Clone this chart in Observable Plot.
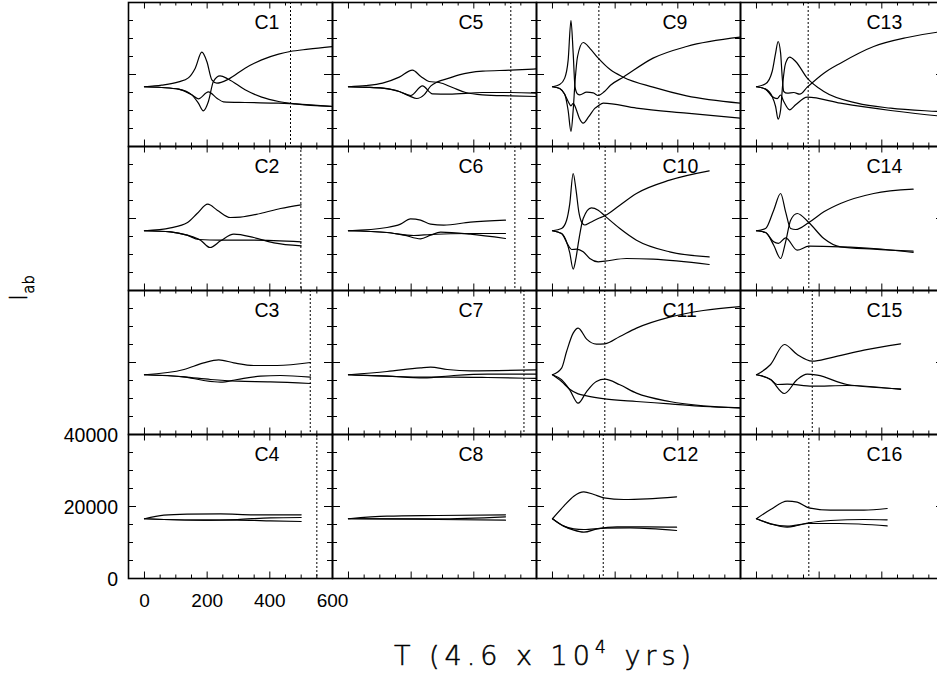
<!DOCTYPE html>
<html><head><meta charset="utf-8">
<script src="https://cdn.jsdelivr.net/npm/d3@7"></script>
<script src="https://cdn.jsdelivr.net/npm/@observablehq/plot@0.6"></script>
<style>
html,body{margin:0;padding:0;overflow:hidden;background:#fff}
svg{max-width:none !important}
</style>
</head><body><div id="chart"></div>
<script>
// ---------- data ----------
const panelNames = ["C1","C2","C3","C4","C5","C6","C7","C8","C9","C10","C11","C12","C13","C14","C15","C16"];
// time of the dotted marker in each panel (null = none visible)
const dottedT = [466,499,529,550, 518,531,560,null, 148,168,167,162, 165,167,178,167];
const xMajorTicks = [0,200,400,600];
const xMinorTicks = [50,100,150,250,300,350,450,500,550];
const yMajorTicks = [0,20000,40000];
const yMinorTicks = [5000,10000,15000,25000,30000,35000];
const xTickLabels = ["0","200","400","600"];
const yTickLabels = ["0","20000","40000"];

// each panel: three series of [T, I_ab]
const C1 = [
 [[0,16600],[55,17040],[109,17960],[140,19070],[162,21760],[183,26200],[199,23610],[215,18520],[231,17600],[268,18700],[321,21760],[374,24070],[428,25650],[465,26390],[523,27040],[600,27780]],
 [[0,16600],[55,16390],[109,15930],[151,14350],[172,12040],[188,9910],[204,12500],[220,18060],[241,19630],[268,18700],[321,15740],[374,13700],[428,12500],[481,11850],[600,11110]],
 [[0,16600],[55,16390],[109,15930],[151,14350],[172,13240],[204,15180],[231,13430],[252,12410],[321,12220],[428,12040],[481,11850],[600,11110]]
];
const C2 = [
 [[0,16600],[83,17410],[136,18800],[168,21390],[202,23980],[232,22320],[274,20280],[306,20370],[370,21390],[434,22780],[500,23800]],
 [[0,16600],[83,16300],[136,15370],[179,13980],[209,11940],[243,13800],[285,15650],[349,14720],[413,13240],[500,12410]],
 [[0,16600],[83,16300],[136,15370],[173,14170],[243,13980],[349,13980],[500,13520]]
];
const C3 = [
 [[0,16600],[126,18060],[189,19910],[237,20740],[285,19910],[349,19170],[423,19170],[530,20000]],
 [[0,16600],[126,16020],[189,15000],[243,14540],[296,15280],[370,16200],[434,16390],[530,15930]],
 [[0,16600],[126,16020],[211,15280],[296,14810],[402,14630],[530,14170]]
];
const C4 = [
 [[0,16600],[62,17590],[136,17870],[243,17960],[349,17690],[500,17690]],
 [[0,16600],[62,16390],[189,16200],[296,16390],[402,16850],[500,16940]],
 [[0,16600],[62,16390],[189,16200],[296,16200],[402,16020],[500,15830]]
];
const C5 = [
 [[0,16600],[55,16900],[109,17590],[162,19260],[204,21200],[231,19440],[257,18060],[289,17780],[332,16390],[374,15000],[428,14350],[518,14070],[600,13890]],
 [[0,16600],[55,16450],[109,16200],[162,15280],[194,14070],[218,13330],[241,14350],[263,16850],[284,17960],[321,18980],[353,19910],[428,20930],[518,21200],[600,21570]],
 [[0,16600],[55,16450],[109,16200],[162,15280],[199,14170],[236,16850],[268,14630],[321,14540],[428,15000],[518,15000],[600,14810]]
];
const C6 = [
 [[0,16600],[123,17500],[166,18430],[198,19910],[230,19540],[262,18430],[304,18150],[389,18980],[501,19540]],
 [[0,16600],[123,16110],[177,15370],[230,14350],[262,15370],[294,16200],[389,15650],[501,14440]],
 [[0,16600],[123,16110],[209,15280],[262,15560],[389,15830],[501,15830]]
];
const C7 = [
 [[0,16600],[123,17500],[230,18520],[262,18700],[315,18060],[389,17690],[600,17960]],
 [[0,16600],[123,16200],[240,15740],[336,16390],[443,16760],[600,16760]],
 [[0,16600],[123,16200],[240,15930],[336,15930],[443,15830],[600,15560]]
];
const C8 = [
 [[0,16600],[123,17310],[283,17500],[501,17690]],
 [[0,16600],[123,16570],[283,16570],[501,17130]],
 [[0,16600],[123,16570],[283,16390],[501,16200]]
];
const C9 = [
 [[0,16600],[23,17200],[39,19000],[50,24000],[59,35000],[66,26000],[72,16500],[80,14600],[87,14350],[109,15090],[130,14900],[146,14170],[165,15200],[185,17000],[226,19260],[321,24540],[428,27780],[600,30370]],
 [[0,16600],[23,16100],[39,14500],[50,10000],[59,4170],[66,10000],[72,18000],[80,25000],[98,28890],[120,27200],[146,24540],[185,21300],[226,19260],[321,16480],[428,14070],[600,12040]],
 [[0,16600],[23,16100],[39,14500],[50,12500],[59,11300],[66,12000],[75,10500],[85,8000],[98,6480],[115,8200],[135,10600],[146,11300],[162,12040],[268,10650],[428,9260],[600,7870]]
];
const C10 = [
 [[0,16600],[29,17220],[45,19500],[55,24000],[66,32500],[75,28000],[84,21850],[93,19000],[103,18200],[120,18900],[146,20000],[167,20740],[215,23700],[268,26950],[374,30650],[500,33240]],
 [[0,16600],[29,15830],[45,13500],[55,10500],[66,5930],[75,9000],[84,14000],[98,20000],[124,22960],[146,22320],[167,20740],[215,17220],[268,13980],[374,10740],[500,9350]],
 [[0,16600],[29,15830],[50,12590],[61,11390],[77,11480],[98,10740],[119,8890],[146,7960],[167,8150],[236,8890],[321,8700],[500,7220]]
];
const C11 = [
 [[0,16600],[29,18430],[45,23060],[66,28150],[82,29540],[109,26480],[140,25090],[167,25190],[215,27220],[268,29540],[374,32590],[481,34450],[600,35560]],
 [[0,16600],[29,15190],[55,12410],[82,8700],[109,11940],[140,14720],[167,15370],[215,13800],[268,11480],[374,9170],[481,7960],[600,7410]],
 [[0,16600],[29,14720],[55,12590],[82,11300],[109,10740],[167,9910],[268,9170],[374,8520],[481,7780],[600,7410]]
];
const C12 = [
 [[0,16600],[36,20090],[68,22870],[100,24070],[132,23330],[164,22410],[228,21940],[302,22130],[396,22690]],
 [[0,16600],[36,14540],[68,13430],[100,12870],[143,13800],[206,14350],[302,14350],[396,14260]],
 [[0,16600],[36,14540],[68,13800],[100,13610],[164,13980],[249,14070],[396,13330]]
];
const C13 = [
 [[0,16600],[29,17400],[50,20830],[61,25930],[69,29170],[77,25930],[82,19440],[87,15280],[98,14810],[119,15000],[138,14540],[162,16480],[215,20370],[268,23150],[374,27780],[481,30280],[578,31760],[600,32000]],
 [[0,16600],[29,15930],[50,13890],[61,11110],[69,7590],[77,10190],[84,17590],[93,23150],[106,24820],[125,23610],[162,18980],[215,15280],[321,12040],[428,10650],[578,9720],[600,9600]],
 [[0,16600],[29,15930],[50,13890],[66,13300],[77,14300],[87,12500],[106,10190],[125,11570],[162,13700],[268,12040],[428,10000],[578,8520],[600,8350]]
];
const C14 = [
 [[0,16600],[29,17220],[55,22320],[77,26950],[93,21850],[109,17220],[125,16940],[167,18890],[215,21850],[268,24170],[374,26950],[500,28150]],
 [[0,16600],[29,16110],[55,12590],[77,8890],[93,13520],[109,19540],[130,21390],[167,18890],[215,14440],[268,12130],[374,11480],[500,10930]],
 [[0,16600],[29,16110],[55,13520],[70,13100],[93,14630],[130,11200],[167,12310],[268,12130],[374,11670],[500,10560]]
];
const C15 = [
 [[0,16600],[45,19440],[89,25000],[130,22220],[178,20370],[236,21300],[343,23430],[460,25190]],
 [[0,16600],[45,15280],[89,11390],[130,15280],[162,16760],[194,16480],[289,13890],[460,12690]],
 [[0,16600],[45,15280],[66,13890],[98,13980],[178,13430],[289,13610],[460,12500]]
];
const C16 = [
 [[0,16600],[45,19170],[98,21480],[130,21200],[167,19630],[236,18980],[343,18980],[417,19440]],
 [[0,16600],[45,15190],[98,14260],[130,14720],[167,15460],[236,16110],[343,16390],[417,16300]],
 [[0,16600],[45,15190],[98,14540],[167,15280],[262,15280],[417,14630]]
];

// ---------- tables ----------
const panels = [C1,C2,C3,C4,C5,C6,C7,C8,C9,C10,C11,C12,C13,C14,C15,C16];
const lineRows = panels.flatMap((series, i) => series.flatMap((pts, s) =>
  pts.map(([t, v]) => ({key: panelNames[i] + "-" + s, col: Math.floor(i / 4), row: i % 4, t, v}))));
const panelRows = panelNames.map((name, i) => ({name, col: Math.floor(i / 4), row: i % 4}));
const dotRows = dottedT.map((t, i) => ({t, col: Math.floor(i / 4), row: i % 4})).filter(d => d.t != null);
const xLabelRows = xMajorTicks.map((t, i) => ({t, label: xTickLabels[i], col: 0, row: 3}));
const yLabelRows = yMajorTicks.map((v, i) => ({v, label: yTickLabels[i], col: 0, row: 3}));

const FW = 204, FH = 144.5;
const font = "Liberation Sans, Arial, Helvetica, sans-serif";

const chart = Plot.plot({
  width: 944, height: 673,
  marginLeft: 128, marginRight: 0, marginTop: 1, marginBottom: 94,
  style: {maxWidth: "none", fontFamily: font, background: "white", overflow: "visible"},
  x: {domain: [-51, 600], axis: null},
  y: {domain: [0, 40000], axis: null},
  fx: {domain: [0,1,2,3], padding: 0, axis: null},
  fy: {domain: [0,1,2,3], padding: 0, axis: null},
  marks: [
    Plot.ruleX(dotRows, {x: "t", fx: "col", fy: "row", stroke: "black", strokeWidth: 1, strokeDasharray: "2,2"}),
    Plot.line(lineRows, {x: "t", y: "v", z: "key", fx: "col", fy: "row", curve: "monotone-x", stroke: "black", strokeWidth: 1.2, clip: true}),
    // inward ticks on every side of every panel
    Plot.tickX(xMinorTicks, {x: d => d, insetTop: FH - 4, stroke: "black"}),
    Plot.tickX(xMinorTicks, {x: d => d, insetBottom: FH - 4, stroke: "black"}),
    Plot.tickX(xMajorTicks, {x: d => d, insetTop: FH - 7, stroke: "black"}),
    Plot.tickX(xMajorTicks, {x: d => d, insetBottom: FH - 7, stroke: "black"}),
    Plot.tickY(yMinorTicks, {y: d => d, insetRight: FW - 5, stroke: "black"}),
    Plot.tickY(yMinorTicks, {y: d => d, insetLeft: FW - 5, stroke: "black"}),
    Plot.tickY(yMajorTicks, {y: d => d, insetRight: FW - 8, stroke: "black"}),
    Plot.tickY(yMajorTicks, {y: d => d, insetLeft: FW - 8, stroke: "black"}),
    Plot.frame({stroke: "black", strokeWidth: 1.6}),
    Plot.text(panelRows, {fx: "col", fy: "row", text: "name", frameAnchor: "top-left", dx: 126, dy: 13, textAnchor: "start", lineAnchor: "top", fontSize: 19.5, fill: "black"}),
    Plot.text(xLabelRows, {x: "t", text: "label", fx: "col", fy: "row", frameAnchor: "bottom", dy: 28, fontSize: 19, fill: "black"}),
    Plot.text(yLabelRows, {y: "v", text: "label", fx: "col", fy: "row", frameAnchor: "left", dx: -10.5, dy: 1, textAnchor: "end", fontSize: 19.5, fill: "black"})
  ]
});
document.getElementById("chart").appendChild(chart);

// axis titles
const svg = d3.select(chart);
const xt = svg.append("text")
  .attr("x", 545).attr("y", 665).attr("text-anchor", "middle")
  .attr("font-family", "DejaVu Sans, sans-serif").attr("font-weight", 200)
  .attr("font-size", 27).attr("letter-spacing", "5px")
  .attr("fill", "black").attr("stroke", "black").attr("stroke-width", 0.5)
  .attr("xml:space", "preserve");
xt.append("tspan").text("T (4.6 x 10");
xt.append("tspan").attr("font-size", 17).attr("dy", -12).text("4");
xt.append("tspan").attr("dy", 12).text(" yrs)");

const yt = svg.append("text")
  .attr("transform", "translate(27,288) rotate(-90)").attr("text-anchor", "middle")
  .attr("font-family", "DejaVu Sans, sans-serif").attr("font-weight", 200)
  .attr("font-size", 24).attr("fill", "black").attr("stroke", "black").attr("stroke-width", 0.5);
yt.append("tspan").text("I");
yt.append("tspan").attr("font-size", 15).attr("dy", 7).text("ab");
</script>
</body></html>
